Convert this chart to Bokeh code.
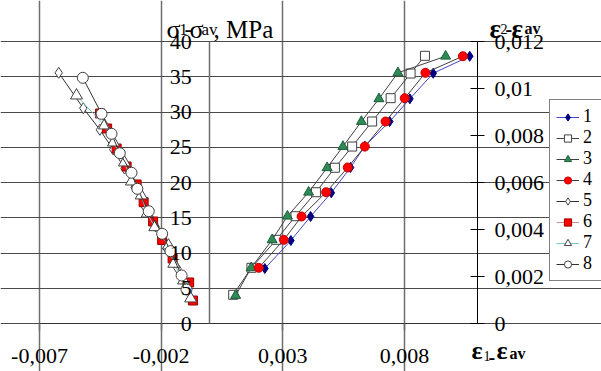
from bokeh.plotting import figure
from bokeh.models import (Range1d, LinearAxis, FixedTicker, Label, ColumnDataSource,
                          Legend, LegendItem)
from bokeh.embed import file_html
from bokeh.resources import INLINE

# ---------------- data ----------------
s1_x = [0.00226, 0.00333, 0.00414, 0.00499, 0.00578, 0.00637, 0.00739, 0.00822, 0.00918, 0.01068]
s1_y = [7.8, 11.77, 15.18, 18.54, 22.13, 25.15, 28.65, 31.87, 35.5, 37.91]
s2_x = [0.00096, 0.00171, 0.00273, 0.00352, 0.00436, 0.00514, 0.00585, 0.00667, 0.00743, 0.00825, 0.00884]
s2_y = [4.07, 7.9, 11.87, 15.22, 18.62, 22.09, 25.1, 28.65, 31.96, 35.46, 37.97]
s3_x = [0.00106, 0.0017, 0.00256, 0.00319, 0.00406, 0.00482, 0.00547, 0.00623, 0.00695, 0.00773, 0.00969]
s3_y = [3.97, 7.9, 11.87, 15.22, 18.62, 22.09, 25.1, 28.65, 31.87, 35.56, 37.91]
s4_x = [0.00201, 0.00304, 0.00377, 0.00478, 0.00567, 0.00637, 0.00722, 0.00801, 0.00886, 0.0104]
s4_y = [7.9, 11.87, 15.18, 18.62, 22.13, 25.1, 28.65, 31.96, 35.56, 37.91]
s5_x = [-0.00621, -0.00520, -0.00452, -0.00397, -0.00351, -0.00309, -0.00268, -0.00223, -0.00178, -0.00133, -0.00092]
s5_y = [35.56, 30.54, 27.48, 24.68, 21.99, 19.29, 16.6, 13.76, 10.64, 7.8, 4.82]
s6_x = [-0.00451, -0.00422, -0.00383, -0.00342, -0.00301, -0.00272, -0.00233, -0.00196, -0.00153, -0.00085, -0.00069]
s6_y = [29.79, 27.66, 24.82, 22.27, 19.72, 17.21, 14.47, 11.84, 9.22, 5.82, 3.26]
s7_x = [-0.00548, -0.00433, -0.00396, -0.00351, -0.00322, -0.00282, -0.00257, -0.00226, -0.0017, -0.00148, -0.00108, -0.00079]
s7_y = [32.34, 28.09, 25.67, 22.84, 20.14, 18.16, 15.6, 13.66, 11.06, 8.47, 6.1, 3.55]
s8_x = [-0.00522, -0.00445, -0.00404, -0.0037, -0.00322, -0.00298, -0.00251, -0.00196, -0.00162, -0.00116, -0.00096]
s8_y = [34.85, 29.74, 26.91, 24.16, 21.38, 19.11, 15.93, 12.72, 10.26, 6.81, 4.82]

series_names = ["1", "2", "3", "4", "5", "6", "7", "8"]

x_ticks = [-0.007, -0.002, 0.003, 0.008]
x_tick_labels = ["-0,007", "-0,002", "0,003", "0,008"]
sig_ticks = [0, 5, 10, 15, 20, 25, 30, 35, 40]
sig_labels = ["0", "5", "10", "15", "20", "25", "30", "35", "40"]
eps2_ticks = [0, 0.002, 0.004, 0.006, 0.008, 0.010, 0.012]
eps2_labels = ["0", "0,002", "0,004", "0,006", "0,008", "0,01", "0,012"]

X_MIN, X_MAX = -0.007, 0.011
SIG_MIN, SIG_MAX = 0, 40
EPS2_MAX = 0.012

FONT = "Liberation Serif"

# canvas-pixel -> data helpers (layout only): plot area spans px 39..477, py 41..323
PX0, PX1, PY0, PY1 = 39, 477, 41, 323
def px2x(px):
    return X_MIN + (px - PX0) * (X_MAX - X_MIN) / (PX1 - PX0)

def py2y(py):
    return SIG_MIN + (PY1 - py) * (SIG_MAX - SIG_MIN) / (PY1 - PY0)

W, H = 601, 371
K = EPS2_MAX / SIG_MAX

p = figure(width=W, height=H,
           x_range=Range1d(px2x(0), px2x(W)), y_range=Range1d(py2y(H), py2y(0)),
           output_backend="svg", toolbar_location=None,
           x_axis_location=None, y_axis_location=None,
           min_border_left=0, min_border_right=0, min_border_top=0, min_border_bottom=0)
p.outline_line_color = None
p.background_fill_color = "white"
p.border_fill_color = "white"

# grids, bounded to the plot area
p.xgrid.ticker = FixedTicker(ticks=x_ticks)
p.xgrid.bounds = (SIG_MIN, SIG_MAX)
p.xgrid.grid_line_color = "#6e6e6e"
p.xgrid.grid_line_width = 1.5
p.ygrid.ticker = FixedTicker(ticks=sig_ticks)
p.ygrid.bounds = (X_MIN, X_MAX)
p.ygrid.grid_line_color = "#4a4a4a"
p.ygrid.grid_line_width = 1.2

# bottom axis at sigma = 0
xa = LinearAxis(fixed_location=SIG_MIN, bounds=(X_MIN, X_MAX))
xa.ticker = FixedTicker(ticks=x_ticks)
xa.major_label_overrides = {t: l for t, l in zip(x_ticks, x_tick_labels)}
xa.minor_tick_line_color = None
xa.major_tick_in = 0
xa.major_tick_out = 7
xa.major_tick_line_color = "#6e6e6e"
xa.major_tick_line_width = 1.5
xa.axis_line_color = "#333333"
xa.major_label_text_font = FONT
xa.major_label_text_font_size = "22px"
xa.major_label_text_color = "black"
xa.major_label_standoff = 18
p.add_layout(xa, "below")

# stress axis at x = 0 (gray line, labels to its left)
ya = LinearAxis(fixed_location=0, bounds=(SIG_MIN, SIG_MAX))
ya.ticker = FixedTicker(ticks=sig_ticks)
ya.major_label_overrides = {t: l for t, l in zip(sig_ticks, sig_labels)}
ya.minor_tick_line_color = None
ya.major_tick_line_color = None
ya.major_tick_in = 0
ya.major_tick_out = 0
ya.axis_line_color = "#6e6e6e"
ya.axis_line_width = 1.5
ya.major_label_text_font = FONT
ya.major_label_text_font_size = "22px"
ya.major_label_text_color = "black"
ya.major_label_standoff = 18
p.add_layout(ya, "left")

# right axis eps2 at x = X_MAX
p.extra_y_ranges = {"eps": Range1d(py2y(H) * K, py2y(0) * K)}
ra = LinearAxis(y_range_name="eps", fixed_location=X_MAX, bounds=(0, EPS2_MAX))
ra.ticker = FixedTicker(ticks=eps2_ticks)
ra.major_label_overrides = {t: l for t, l in zip(eps2_ticks, eps2_labels)}
ra.minor_tick_line_color = None
ra.major_tick_in = 7
ra.major_tick_out = 7
ra.axis_line_color = "black"
ra.major_tick_line_color = "black"
ra.major_label_text_font = FONT
ra.major_label_text_font_size = "22px"
ra.major_label_text_color = "black"
ra.major_label_standoff = 10
p.add_layout(ra, "right")

# series
styles = [
    dict(x=s1_x, y=s1_y, line="#4646c8", marker="diamond", size=10, fill="#000080", mline="#000080"),
    dict(x=s2_x, y=s2_y, line="#404040", marker="square", size=9, fill="white", mline="#404040"),
    dict(x=s3_x, y=s3_y, line="#404040", marker="triangle", size=10, fill="#2e8b57", mline="#1e5e3a"),
    dict(x=s4_x, y=s4_y, line="#404040", marker="circle", size=9, fill="#ff0000", mline="#cc0000"),
    dict(x=s5_x, y=s5_y, line="#303030", marker="diamond", size=11, fill="white", mline="#404040"),
    dict(x=s6_x, y=s6_y, line="#c89090", marker="square", size=9, fill="#ff0000", mline="#990000"),
    dict(x=s7_x, y=s7_y, line="#80c8c8", marker="triangle", size=12, fill="white", mline="#404040"),
    dict(x=s8_x, y=s8_y, line="#303030", marker="circle", size=11, fill="white", mline="#404040"),
]

items = []
for name, st in zip(series_names, styles):
    src = ColumnDataSource(dict(x=st["x"], y=st["y"]))
    lr = p.line("x", "y", source=src, line_color=st["line"], line_width=1)
    sr = p.scatter("x", "y", source=src, marker=st["marker"], size=st["size"],
                   fill_color=st["fill"], line_color=st["mline"], line_width=1)
    items.append(LegendItem(label=name, renderers=[lr, sr]))

legend = Legend(items=items, location=(549, H - 281))
legend.label_text_font = FONT
legend.label_text_font_size = "18px"
legend.label_text_color = "black"
legend.border_line_color = "black"
legend.border_line_width = 1
legend.background_fill_color = "white"
legend.background_fill_alpha = 1
legend.padding = 6
legend.spacing = 0
legend.margin = 0
legend.glyph_width = 23
legend.glyph_height = 18
legend.label_height = 18
legend.label_width = 30
legend.label_standoff = 4
p.add_layout(legend, "center")

# titles (mixed-size pieces)
def piece(text, px, py, size, bold=False, baseline="alphabetic"):
    p.add_layout(Label(x=px2x(px), y=py2y(py), text=text, text_font=FONT,
                       text_font_size=f"{size}px", text_font_style="bold" if bold else "normal",
                       text_align="left", text_baseline=baseline, text_color="black"))

# sigma title
piece("σ", 166, 29, 26)
piece("1", 179, 29, 16)
piece("-", 184, 29, 24)
piece("σ", 189, 29, 26)
piece("av", 201, 29, 17)
piece(", MPa", 213, 29, 25)
# eps2 title
piece("ε", 489, 28, 27, True)
piece("2", 500, 28, 14)
piece("-", 505, 28, 20, True)
piece("ε", 511, 28, 27, True)
piece("av", 524, 28, 16, True)
# eps1 title (bottom-anchored so that the whole box stays inside the canvas)
piece("ε", 471, 364, 26, True, "bottom")
piece("1", 483, 360, 14, False, "bottom")
piece("-", 488, 363, 20, True, "bottom")
piece("ε", 496, 364, 26, True, "bottom")
piece("av", 509, 361, 16, True, "bottom")

open("out.html", "w").write(file_html(p, INLINE))
